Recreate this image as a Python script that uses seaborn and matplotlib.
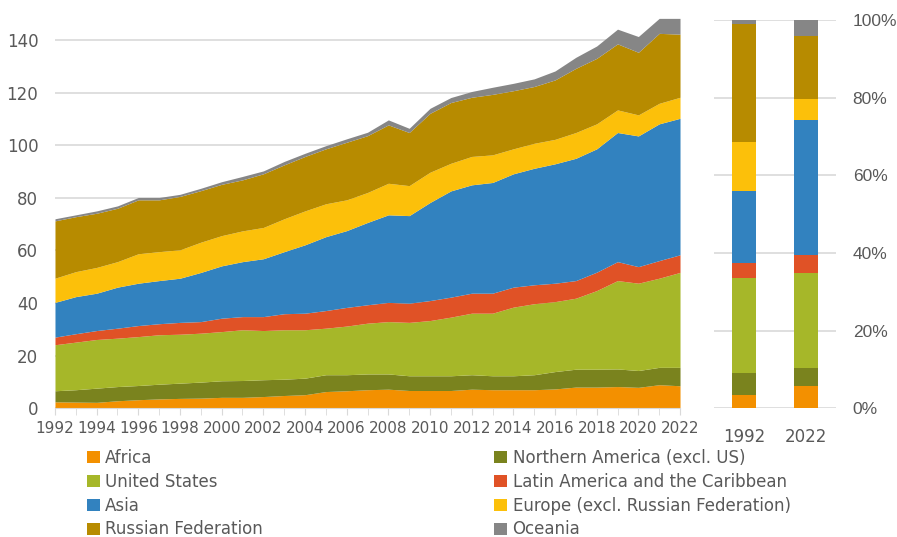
import numpy as np
import seaborn as sns
import matplotlib.pyplot as plt
from matplotlib.patches import Patch
from matplotlib.ticker import MultipleLocator, FuncFormatter

#Data__________________________________________________________________________
years = list(range(1992, 2023))

africa = [2.4, 2.3, 2.2, 2.8, 3.2, 3.5, 3.7, 3.8, 4.1, 4.1, 4.4, 4.8, 5.1, 6.3, 6.6, 7.0,
          7.2, 6.7, 6.7, 6.7, 7.2, 7.0, 7.0, 7.0, 7.3, 8.0, 8.0, 8.2, 7.9, 8.9, 8.5]
northern_america = [4.2, 4.7, 5.4, 5.4, 5.4, 5.6, 5.8, 6.1, 6.3, 6.4, 6.4, 6.2, 6.3, 6.4, 6.1, 6.0,
                    5.8, 5.6, 5.6, 5.6, 5.5, 5.3, 5.3, 5.7, 6.6, 6.8, 6.8, 6.7, 6.4, 6.6, 7.0]
united_states = [17.5, 18.1, 18.5, 18.4, 18.6, 18.8, 18.6, 18.6, 18.7, 19.3, 18.7, 18.8, 18.4, 17.7, 18.5, 19.3,
                 19.9, 20.3, 21.0, 22.3, 23.4, 23.8, 26.1, 27.0, 26.6, 27.0, 29.9, 33.6, 33.2, 33.9, 36.1]
latin_america = [2.9, 3.2, 3.4, 3.8, 4.2, 4.2, 4.5, 4.4, 5.1, 5.0, 5.3, 6.1, 6.3, 6.7, 7.1, 7.0,
                 7.3, 7.3, 7.6, 7.6, 7.6, 7.6, 7.6, 7.2, 7.0, 6.7, 7.0, 7.2, 6.3, 6.7, 6.7]
asia = [13.2, 14.1, 14.2, 15.6, 16.1, 16.4, 16.8, 18.7, 19.9, 20.9, 22.0, 23.6, 26.0, 28.1, 29.2, 31.3,
        33.3, 33.3, 37.3, 40.4, 41.2, 42.1, 43.1, 44.3, 45.4, 46.5, 46.9, 49.1, 49.7, 52.0, 51.9]
europe = [9.2, 9.5, 9.8, 9.7, 11.2, 11.0, 10.8, 11.5, 11.5, 11.7, 11.9, 12.5, 12.9, 12.5, 11.7, 11.4,
          12.0, 11.4, 11.5, 10.5, 10.8, 10.5, 9.5, 9.5, 9.3, 9.8, 9.5, 8.6, 8.0, 7.8, 8.0]
russia = [21.8, 20.9, 20.6, 20.3, 20.5, 19.7, 20.3, 19.6, 19.5, 19.4, 20.4, 20.5, 20.7, 20.9, 21.9, 21.6,
          22.2, 20.2, 22.4, 23.1, 22.5, 23.0, 22.1, 21.6, 22.6, 24.4, 24.9, 25.1, 23.8, 26.6, 24.0]
oceania = [0.8, 0.7, 0.9, 0.9, 0.9, 0.9, 0.8, 0.9, 1.0, 1.3, 1.1, 1.3, 1.2, 1.2, 1.3, 1.3,
           1.9, 1.6, 1.9, 1.9, 2.2, 2.7, 2.8, 2.9, 3.4, 4.2, 4.7, 5.6, 6.0, 5.7, 6.0]

labels = ['Africa', 'Northern America (excl. US)', 'United States',
          'Latin America and the Caribbean', 'Asia',
          'Europe (excl. Russian Federation)', 'Russian Federation', 'Oceania']
colors = ['#F39000', '#7A831E', '#A6B729', '#E05226', '#3282BF',
          '#FCC00A', '#B78B00', '#868686']
bar_years = ['1992', '2022']

series = [africa, northern_america, united_states, latin_america, asia, europe, russia, oceania]

#Style_________________________________________________________________________
sns.set_style('white')
plt.rcParams['font.family'] = ['DejaVu Sans']
text_col = '#595959'
grid_col = '#D9D9D9'
narrow = ['Liberation Sans Narrow', 'DejaVu Sans']
arial = ['Liberation Sans', 'DejaVu Sans']

fig = plt.figure(figsize=(8.97, 5.37), dpi=100)
fig.patch.set_facecolor('white')

#Left: stacked area____________________________________________________________
ax = fig.add_axes([0.0613, 0.240, 0.6968, 0.7346])
ax.stackplot(years, *series, colors=colors, linewidth=0)
ax.set_xlim(1992, 2022)
ax.set_ylim(0, 150)
ax.set_yticks(range(0, 141, 20))
ax.xaxis.set_major_locator(MultipleLocator(2))
ax.xaxis.set_minor_locator(MultipleLocator(1))
ax.grid(axis='y', color=grid_col, linewidth=1.2)
ax.set_axisbelow(True)
for s in ['top', 'right', 'left']:
    ax.spines[s].set_visible(False)
ax.spines['bottom'].set_color(grid_col)
ax.tick_params(axis='y', length=0, pad=12, labelsize=12, labelcolor=text_col)
ax.tick_params(axis='x', which='both', length=5, color=grid_col, direction='out',
               pad=4, labelcolor=text_col, bottom=True)
for lab in ax.get_xticklabels():
    lab.set_fontfamily(narrow)
    lab.set_fontsize(11)

#Right: 100% stacked bars______________________________________________________
ax2 = fig.add_axes([0.796, 0.240, 0.136, 0.7225])
bar_vals = np.array([[s[0], s[-1]] for s in series])
shares = bar_vals / bar_vals.sum(axis=0)
bottom = np.zeros(2)
for vals, c in zip(shares, colors):
    ax2.bar([0, 1], vals, bottom=bottom, width=0.39, color=c, linewidth=0)
    bottom += vals
ax2.set_xlim(-0.48, 1.48)
ax2.set_ylim(0, 1)
ax2.set_xticks([0, 1])
ax2.set_xticklabels(bar_years)
ax2.set_yticks(np.arange(0, 1.01, 0.2))
ax2.yaxis.set_major_formatter(FuncFormatter(lambda v, p: f'{v:.0%}'))
ax2.yaxis.tick_right()
ax2.grid(axis='y', color=grid_col, linewidth=1.2)
ax2.set_axisbelow(True)
for s in ['top', 'right', 'left', 'bottom']:
    ax2.spines[s].set_visible(False)
ax2.tick_params(axis='y', length=0, pad=12, labelsize=12, labelcolor=text_col)
ax2.tick_params(axis='x', length=0, pad=14, labelsize=12, labelcolor=text_col)
for lab in ax2.get_yticklabels():
    lab.set_fontfamily(arial)
    lab.set_fontsize(12.5)

#Legend________________________________________________________________________
handles = [Patch(facecolor=c, edgecolor='none', label=l) for c, l in zip(colors, labels)]
leg_kw = dict(loc='upper left', frameon=False, fontsize=12, handlelength=0.75,
              handleheight=0.75, handletextpad=0.35, labelspacing=0.35,
              borderpad=0, borderaxespad=0, labelcolor=text_col)
leg1 = fig.legend(handles=handles[0::2], bbox_to_anchor=(0.097, 0.164), **leg_kw)
leg2 = fig.legend(handles=handles[1::2], bbox_to_anchor=(0.551, 0.164), **leg_kw)

fig.savefig('out.png', dpi=100, facecolor='white')
